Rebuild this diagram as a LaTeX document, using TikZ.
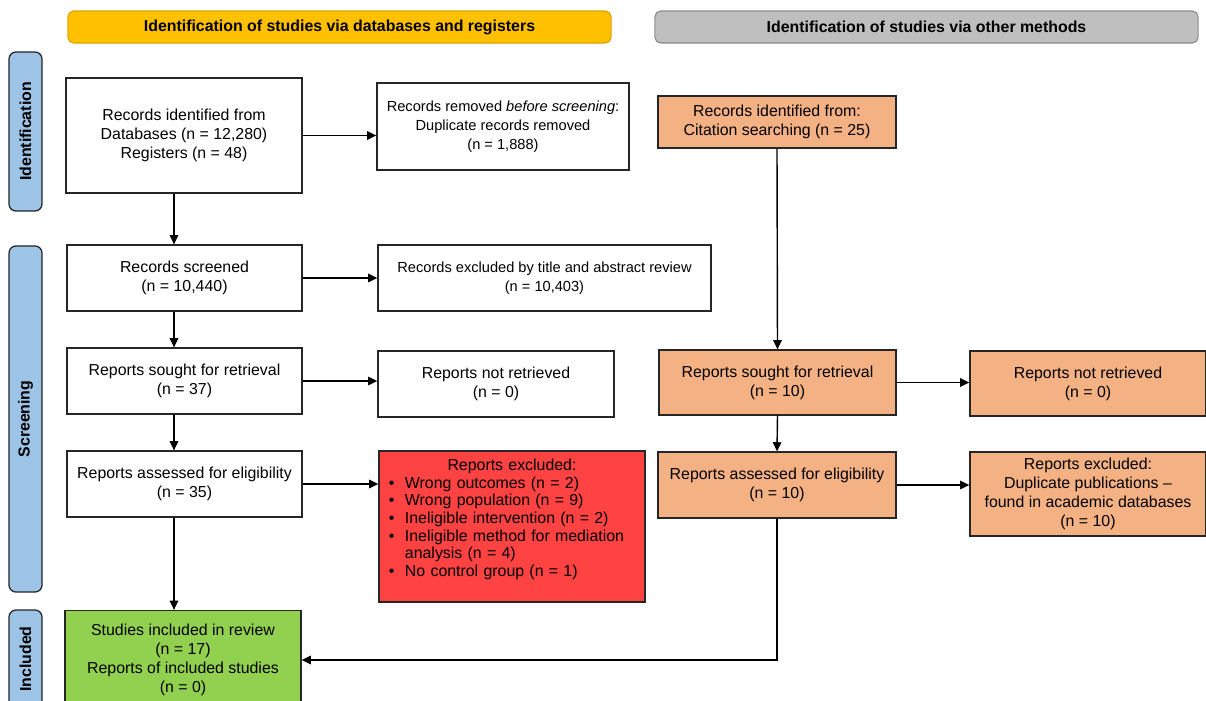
\documentclass[tikz,border=0pt]{standalone}
\usepackage{fontspec}
\setmainfont{Liberation Sans}
\usetikzlibrary{arrows.meta}
\definecolor{dbyellow}{HTML}{FFC000}
\definecolor{dbyellowline}{HTML}{D9A400}
\definecolor{othergrey}{HTML}{BFBFBF}
\definecolor{othergreyline}{HTML}{8C8C8C}
\definecolor{phaseblue}{HTML}{9DC3E6}
\definecolor{otherorange}{HTML}{F4B183}
\definecolor{exclred}{HTML}{FF4242}
\definecolor{inclgreen}{HTML}{92D050}
\newcommand{\bul}{\makebox[0.4cm][l]{\textbullet}}

\begin{document}
\begin{tikzpicture}[x=0.025cm,y=-0.025cm,
  font=\fontsize{11.3}{13.5}\selectfont,
  box/.style={draw=black!85,line width=0.9pt,align=center,inner sep=2pt},
  smalltext/.style={font=\fontsize{10.4}{13.5}\selectfont},
  head/.style={draw,rounded corners=4pt,line width=0.8pt,minimum width=13.575cm,
    minimum height=0.8cm,font=\fontsize{11.3}{13.5}\selectfont\bfseries},
  side/.style={draw=black!85,fill=phaseblue,rounded corners=5pt,line width=0.9pt,
    rotate=90,minimum height=0.825cm,font=\fontsize{11.3}{13.5}\selectfont\bfseries},
  arr/.style={-{Triangle[length=6.5pt,width=6pt]},line width=1pt}]
  \useasboundingbox (0,0) rectangle (1206,700);
  \clip (0,0) rectangle (1206,700);

  \node[head,fill=dbyellow,draw=dbyellowline] (dbhead) at (339.5,27)
    {Identification of studies via databases and registers};
  \node[head,fill=othergrey,draw=othergreyline] (otherhead) at (926.5,27)
    {Identification of studies via other methods};

  \node[side,minimum width=3.975cm] (identification) at (25.5,131.5) {Identification};
  \node[side,minimum width=8.65cm] (screening) at (25.5,419) {Screening};
  \node[side,minimum width=2.45cm] (included) at (25.5,659) {Included};

  \node[box,minimum width=5.9cm,minimum height=2.875cm] (identified) at (184,135.5)
    {Records identified from\\Databases (n = 12,280)\\Registers (n = 48)};
  \node[box,smalltext,minimum width=6.3cm,minimum height=2.175cm] (removed) at (503,126.5)
    {Records removed \textit{before screening}:\\Duplicate records removed\\(n = 1,888)};
  \node[box,minimum width=5.875cm,minimum height=1.65cm] (screened) at (184.5,278)
    {Records screened\\(n = 10,440)};
  \node[box,smalltext,minimum width=8.325cm,minimum height=1.65cm] (excluded) at (544.5,278)
    {Records excluded by title and abstract review\\(n = 10,403)};
  \node[box,minimum width=5.875cm,minimum height=1.65cm] (sought) at (184.5,381)
    {Reports sought for retrieval\\(n = 37)};
  \node[box,minimum width=5.9cm,minimum height=1.65cm] (notretrieved) at (496,384)
    {Reports not retrieved\\(n = 0)};
  \node[box,minimum width=5.875cm,minimum height=1.65cm] (assessed) at (184.5,484)
    {Reports assessed for eligibility\\(n = 35)};
  \node[box,fill=exclred,align=left,text width=6.15cm,inner xsep=0.25cm,
    minimum height=3.775cm,font=\fontsize{11.3}{12.5}\selectfont] (reportsexcl) at (512,526.5)
    {\makebox[6.15cm]{Reports excluded:}\\
     \bul Wrong outcomes (n = 2)\\
     \bul Wrong population (n = 9)\\
     \bul Ineligible intervention (n = 2)\\
     \bul Ineligible method for mediation\\
     \hspace*{0.4cm}analysis (n = 4)\\
     \bul No control group (n = 1)\\
     \mbox{}};
  \node[box,fill=inclgreen,minimum width=5.9cm,minimum height=2.475cm] (studies) at (183,660)
    {Studies included in review\\(n = 17)\\Reports of included studies\\(n = 0)};

  \node[box,fill=otherorange,minimum width=5.95cm,minimum height=1.3cm] (citation) at (777,122)
    {Records identified from:\\Citation searching (n = 25)};
  \node[box,fill=otherorange,minimum width=5.925cm,minimum height=1.625cm] (othersought) at (777.5,382.5)
    {Reports sought for retrieval\\(n = 10)};
  \node[box,fill=otherorange,minimum width=5.9cm,minimum height=1.625cm] (othernot) at (1088,383.5)
    {Reports not retrieved\\(n = 0)};
  \node[box,fill=otherorange,minimum width=5.95cm,minimum height=1.65cm] (otherassessed) at (777,485)
    {Reports assessed for eligibility\\(n = 10)};
  \node[box,fill=otherorange,minimum width=5.9cm,minimum height=2.1cm] (otherexcl) at (1088,494)
    {Reports excluded:\\Duplicate publications --\\found in academic databases\\(n = 10)};

  \coordinate (leftcol) at (174,0);
  \draw[arr] (identified.east) -- (identified.east -| removed.west);
  \draw[arr] (identified.south -| leftcol) -- (screened.north -| leftcol);
  \draw[arr] (screened.east) -- (excluded.west);
  \draw[arr] (screened.south -| leftcol) -- (sought.north -| leftcol);
  \draw[arr] (sought.east) -- (sought.east -| notretrieved.west);
  \draw[arr] (sought.south -| leftcol) -- (assessed.north -| leftcol);
  \draw[arr] (assessed.east) -- (assessed.east -| reportsexcl.west);
  \draw[arr] (assessed.south -| leftcol) -- (studies.north -| leftcol);

  \draw[arr] (citation.south) -- (othersought.north);
  \draw[arr] (othersought.east) -- (othersought.east -| othernot.west);
  \draw[arr] (othersought.south) -- (otherassessed.north);
  \draw[arr] (otherassessed.east) -- (otherassessed.east -| otherexcl.west);
  \draw[arr] (otherassessed.south) |- (studies.east);
\end{tikzpicture}
\end{document}
